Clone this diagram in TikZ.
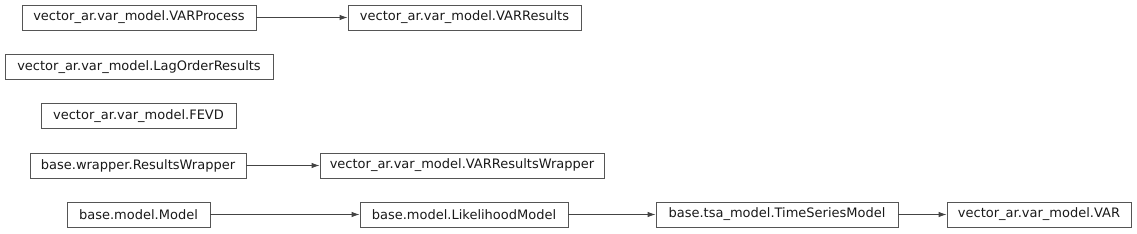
\documentclass[tikz,border=0pt]{standalone}
\usepackage{fontspec}
\setmainfont{DejaVu Sans}
\usetikzlibrary{arrows.meta}
\definecolor{boxline}{HTML}{555555}
\definecolor{edgeline}{HTML}{444444}
\tikzset{
  cls/.style={draw=boxline, line width=0.9bp, inner sep=0pt, minimum height=25bp,
    font=\fontsize{13bp}{15bp}\selectfont, text=black!90, anchor=center},
  inh/.style={draw=edgeline, line width=0.9bp, -{Latex[length=8bp,width=5.5bp]}}
}
\begin{document}
\begin{tikzpicture}[x=1bp,y=-1bp]
\useasboundingbox (0,0) rectangle (1137,233);
\node[cls, minimum width=234bp] (p) at (139,17.5) {vector\_ar.var\_model.VARProcess};
\node[cls, minimum width=233bp] (r) at (464.5,17.5) {vector\_ar.var\_model.VARResults};
\node[cls, minimum width=268bp] (lag) at (139,67) {vector\_ar.var\_model.LagOrderResults};
\node[cls, minimum width=195bp] (fevd) at (138.5,116) {vector\_ar.var\_model.FEVD};
\node[cls, minimum width=216bp] (rw) at (138,165.5) {base.wrapper.ResultsWrapper};
\node[cls, minimum width=284bp] (vrw) at (462,165.5) {vector\_ar.var\_model.VARResultsWrapper};
\node[cls, minimum width=143bp] (m) at (138.5,214.5) {base.model.Model};
\node[cls, minimum width=208bp] (lm) at (464,214.5) {base.model.LikelihoodModel};
\node[cls, minimum width=242bp] (tsm) at (777,214.5) {base.tsa\_model.TimeSeriesModel};
\node[cls, minimum width=184bp] (var) at (1039,214.5) {vector\_ar.var\_model.VAR};
\draw[inh] (p) -- (r);
\draw[inh] (rw) -- (vrw);
\draw[inh] (m) -- (lm);
\draw[inh] (lm) -- (tsm);
\draw[inh] (tsm) -- (var);
\end{tikzpicture}
\end{document}
